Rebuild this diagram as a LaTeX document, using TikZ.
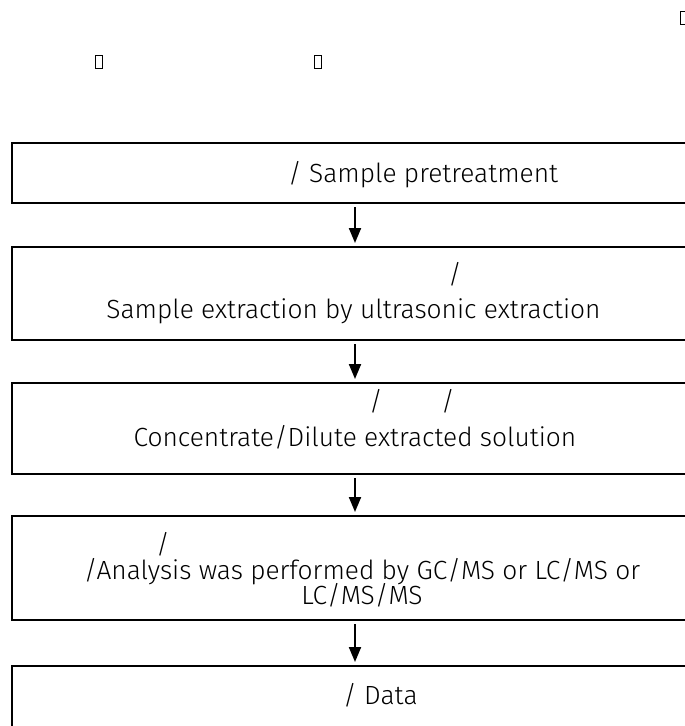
\documentclass[tikz,border=0pt]{standalone}
\usepackage{fontspec}
\setmainfont{Fira Sans}[UprightFont=* Light]
\usetikzlibrary{arrows.meta}
\begin{document}
\begin{tikzpicture}[x=1pt,y=-1pt,
  box/.style={draw,line width=2.2pt,minimum width=686pt,inner sep=0pt,outer sep=0pt},
  txt/.style={font=\fontsize{26.3}{31}\selectfont,inner sep=0pt},
  arr/.style={line width=2pt,-{Triangle[width=12pt,length=15pt]}},
  tofu/.style={draw,line width=1.6pt,minimum width=7pt,minimum height=13pt,inner sep=0pt}]
\useasboundingbox (0,0) rectangle (685,726);
\clip (0,0) rectangle (685,726);
\node[tofu] (q1) at (684,18) {};
\node[tofu] (q2) at (99,62) {};
\node[tofu] (q3) at (318,62) {};
\node[box,minimum height=60pt] (b1) at (355,173) {};
\node[box,minimum height=93pt] (b2) at (355,293.5) {};
\node[box,minimum height=91pt] (b3) at (355,428.5) {};
\node[box,minimum height=104pt] (b4) at (355,568) {};
\node[box,minimum height=80pt] (b5) at (355,706) {};
\node[txt,anchor=base west] (t1) at (288,182) {/ Sample pretreatment};
\node[txt,anchor=base] (t2a) at (455,283) {/};
\node[txt,anchor=base] (t2b) at (353.5,318) {Sample extraction by ultrasonic extraction};
\node[txt,anchor=base] (t3a) at (376,410) {/};
\node[txt,anchor=base] (t3b) at (448,410) {/};
\node[txt,anchor=base] (t3c) at (355,446) {Concentrate/Dilute extracted solution};
\node[txt,anchor=base] (t4a) at (163,553) {/};
\node[txt,anchor=base] (t4b) at (362,579) {/Analysis was performed by GC/MS or LC/MS or};
\node[txt,anchor=base] (t4c) at (362,604) {LC/MS/MS};
\node[txt,anchor=base west] (t5) at (343,704) {/ Data};
\draw[arr] ([yshift=-4pt]b1.south) -- ([yshift=4pt]b2.north);
\draw[arr] ([yshift=-4pt]b2.south) -- ([yshift=4pt]b3.north);
\draw[arr] ([yshift=-4pt]b3.south) -- ([yshift=4pt]b4.north);
\draw[arr] ([yshift=-4pt]b4.south) -- ([yshift=4pt]b5.north);
\end{tikzpicture}
\end{document}
